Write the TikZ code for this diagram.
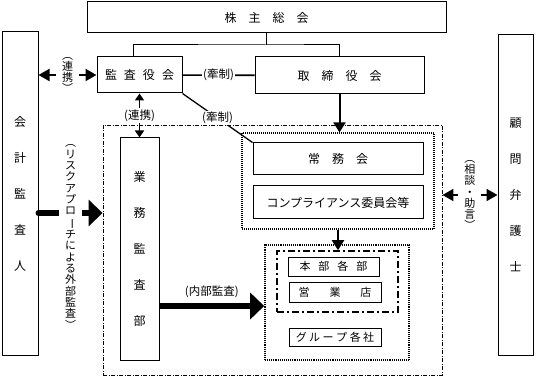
\documentclass[tikz,border=0pt]{standalone}
\usepackage{fontspec}
\setmainfont{Noto Sans CJK JP}
\usepackage{graphicx}
\usetikzlibrary{arrows.meta}

% vertical-writing helper: long vowel mark turned upright
\newcommand{\vl}{\rotatebox[origin=c]{-90}{ー}}

\begin{document}
\begin{tikzpicture}[
  x=1pt, y=-1pt,
  box/.style={draw, line width=1pt, inner sep=0pt, font=\fontsize{12}{14}\selectfont},
  tall/.style={box, align=center, font=\fontsize{12}{36}\selectfont},
  small/.style={box, line width=0.9pt, font=\fontsize{11}{13}\selectfont},
  frame/.style={draw, inner sep=0pt, line width=0.9pt},
  lbl/.style={fill=white, inner sep=1.5pt, font=\fontsize{11.5}{13}\selectfont},
  vlbl/.style={lbl, align=center, inner xsep=6pt, inner ysep=1pt,
               font=\fontsize{11}{11.3}\selectfont},
  w/.style={line width=1pt},
  e/.style={line width=2pt, -{Triangle[length=10pt,width=12pt]}},
  ee/.style={line width=2pt,
             {Triangle[length=11pt,width=12pt]}-{Triangle[length=11pt,width=12pt]}},
  ees/.style={line width=1.5pt,
              {Triangle[length=7pt,width=9pt]}-{Triangle[length=7pt,width=9pt]}},
  big/.style={line width=6pt, -{Triangle[length=14pt,width=26pt]}}
]
\useasboundingbox (0,0) rectangle (536,377);

% frames
\node[frame, dash pattern=on 4pt off 1.5pt on 1pt off 1.5pt,
      minimum width=339pt, minimum height=250pt] (naibu) at (272.5,250) {};
\node[frame, line width=1.1pt, dash pattern=on 1pt off 1pt,
      minimum width=192pt, minimum height=96pt] (keiei) at (338,181) {};
\node[frame, densely dotted, line width=1.6pt,
      minimum width=144pt, minimum height=115pt] (eigyo) at (337,302.5) {};
\node[frame, line width=1.6pt, dash pattern=on 7pt off 3pt on 2pt off 3pt,
      minimum width=121pt, minimum height=61pt] (honsha) at (337.5,281.5) {};

% boxes
\node[box, minimum width=359pt, minimum height=31pt] (soukai) at (266.5,17.5) {株　主　総　会};
\node[box, minimum width=85pt, minimum height=36pt] (kansa) at (139.5,75)
  {監\hspace{7pt}査\hspace{7pt}役\hspace{7pt}会};
\node[box, minimum width=169pt, minimum height=37pt] (torishimari) at (339.5,75.5) {取　締　役　会};
\node[tall, minimum width=36pt, minimum height=323pt] (kaikei) at (20,193.5)
  {会\\計\\監\\査\\人};
\node[tall, minimum width=35pt, minimum height=320pt] (komon) at (515.5,195)
  {顧\\問\\弁\\護\\士};
\node[tall, minimum width=39pt, minimum height=222pt] (gyomu) at (139.5,249)
  {業\\務\\監\\査\\部};
\node[box, minimum width=170pt, minimum height=32pt] (joumu) at (338,159) {常　務　会};
\node[box, minimum width=170pt, minimum height=33pt] (comp) at (338,202.5) {コンプライアンス委員会等};
\node[small, minimum width=91pt, minimum height=19pt] (honbu) at (333.5,266.5)
  {本\hspace{8pt}部\hspace{8pt}各\hspace{8pt}部};
\node[small, minimum width=92pt, minimum height=20pt] (ten) at (335,292)
  {営\hspace{20pt}業\hspace{20pt}店};
\node[small, minimum width=92pt, minimum height=18pt] (group) at (335,337)
  {グ\hspace{2.5pt}ル\hspace{2.5pt}ー\hspace{2.5pt}プ\hspace{2.5pt}各\hspace{2.5pt}社};

% shareholders' meeting to both boards
\coordinate (bus) at (soukai.south |- 0,45);
\coordinate (kl) at ([xshift=-6pt]kansa.north);
\draw[w] (soukai.south) -- (bus);
\draw[w] (kl) |- (bus) -| (torishimari.north);

% connectors
\draw[line width=1.6pt] (kansa) -- (torishimari) node[midway, lbl] {(牽制)};
\draw[line width=1.3pt] (kansa.south east) -- (joumu.north west) node[midway, lbl] {(牽制)};
\draw[ees] (kansa) -- (gyomu) node[midway, lbl] {(連携)};
\draw[ee] (kaikei.east |- kansa.west) -- (kansa.west)
  node[midway, vlbl] {︵\\連\\携\\︶};
\draw[e] (torishimari.south) -- (torishimari.south |- keiei.north);
\draw[e] (keiei.south) -- (keiei.south |- honsha.north);

\coordinate (ga) at ([yshift=-19.5pt]kaikei.east);
\draw[big, line cap=round] (ga) -- (ga -| naibu.west)
  node[midway, vlbl, yshift=-24pt]
  {︵\\リ\\ス\\ク\\ア\\プ\\ロ\\\vl\\チ\\に\\よ\\る\\外\\部\\監\\査\\︶};

\coordinate (ia) at ([yshift=-57pt]gyomu.east);
\draw[big] (ia) -- (ia -| eigyo.west) node[midway, lbl, above=4pt] {(内部監査)};

\draw[ee] (komon.west -| naibu.east) -- (komon.west)
  node[midway, vlbl] {︵\\相\\談\\・\\助\\言\\︶};

\end{tikzpicture}
\end{document}
